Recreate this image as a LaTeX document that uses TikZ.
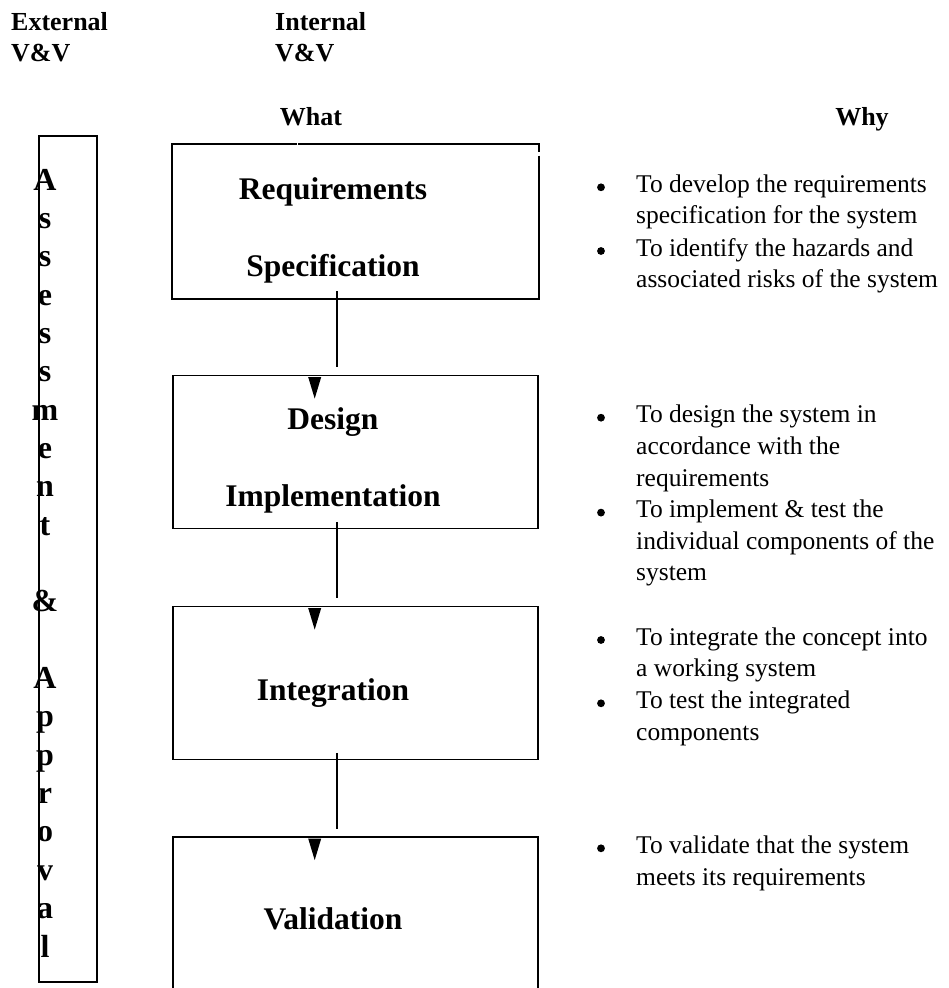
\documentclass[tikz,border=0pt]{standalone}
\usepackage{fontspec}
\setmainfont{Liberation Serif}
\usetikzlibrary{calc}
\begin{document}
\begin{tikzpicture}[x=1pt,y=-1pt,
  stage/.style={minimum width=365pt, minimum height=153pt, inner sep=0pt, line width=1.8pt},
  frame/.style={line width=1.8pt},
  title/.style={font=\fontsize{31.5}{36}\selectfont\bfseries, anchor=base, inner sep=0pt},
  head/.style={font=\fontsize{26}{30}\selectfont\bfseries, anchor=base west, inner sep=0pt},
  colhead/.style={font=\fontsize{26}{30}\selectfont\bfseries, anchor=base, inner sep=0pt},
  why/.style={font=\fontsize{25.5}{30}\selectfont, anchor=base west, inner sep=0pt},
  vletter/.style={font=\fontsize{32}{36}\selectfont\bfseries, anchor=base, inner sep=0pt},
  link/.style={line width=1.8pt},
  tip/.style={fill=black, draw=none}]
\useasboundingbox (0,0) rectangle (948,988);

% column headings
\node[head] (extA) at (11,30) {External};
\node[head] (extB) at (11,61.7) {V\&V};
\node[head] (intA) at (275,30) {Internal};
\node[head] (intB) at (275,61.7) {V\&V};
\node[colhead] (what) at (311,125) {What};
\node[colhead] (why) at (862,125) {Why};

% external assessment column
\node[draw, line width=1.8pt, minimum width=58pt, minimum height=846pt, inner sep=0pt] (ext) at (68,559) {};
\foreach \c/\i in {A/0,s/1,s/2,e/3,s/4,s/5,m/6,e/7,n/8,t/9,\&/11,A/13,p/14,p/15,r/16,o/17,v/18,a/19,l/20}
  \node[vletter] (v\i) at (45,190+38.35*\i) {\c};

% life-cycle stages
\node[stage] (req) at (355.2,221.5) {};
\node[stage, draw] (des) at (355.2,452) {};
\node[stage, draw] (int) at (355.2,683) {};
\node[stage, draw] (val) at (355.2,913.5) {};

% requirements frame, drawn with its two small breaks
\draw[frame] ($(req.north west)+(126,0)$) -- (req.north east) -- ($(req.north east)+(0,8)$);
\draw[frame] ($(req.north east)+(0,11.5)$) -- (req.south east) -- (req.south west)
  -- (req.north west) -- ($(req.north west)+(124.8,0)$);

\node[title] (reqA) at (333,199) {Requirements};
\node[title] (reqB) at (333,276.7) {Specification};
\node[title] (desA) at (333,429) {Design};
\node[title] (desB) at (333,506) {Implementation};
\node[title] (intT) at (333,700) {Integration};
\node[title] (valT) at (333,929) {Validation};

% connectors and their heads
\foreach \a/\b in {req/des,des/int,int/val}{
  \draw[link] ($(\a.south)+(-18.5,-7.5)$) -- ($(\b.north)+(-18.5,-7.5)$);
  \fill[tip] ($(\b.north)+(-47,2.5)$) -- ($(\b.north)+(-34,2.5)$) -- ($(\b.north)+(-40.5,24)$) -- cycle;
}

% reasons
\foreach \t/\yy [count=\k] in {
  To develop the requirements/192.3,
  specification for the system/223.3,
  To identify the hazards and/256,
  associated risks of the system/287.3,
  To design the system in/422.7,
  accordance with the/454.3,
  requirements/486,
  To implement \& test the/517.6,
  individual components of the/549.2,
  system/580.8,
  To integrate the concept into/645,
  a working system/676.7,
  To test the integrated/708.3,
  components/740,
  To validate that the system/853.3,
  meets its requirements/885}
  \node[why] (w\k) at (636,\yy) {\t};

\foreach \yy in {192.3,256,422.7,517.6,645,708.3,853.3}
  \fill (601,\yy-5) circle (3.9pt);
\end{tikzpicture}
\end{document}
